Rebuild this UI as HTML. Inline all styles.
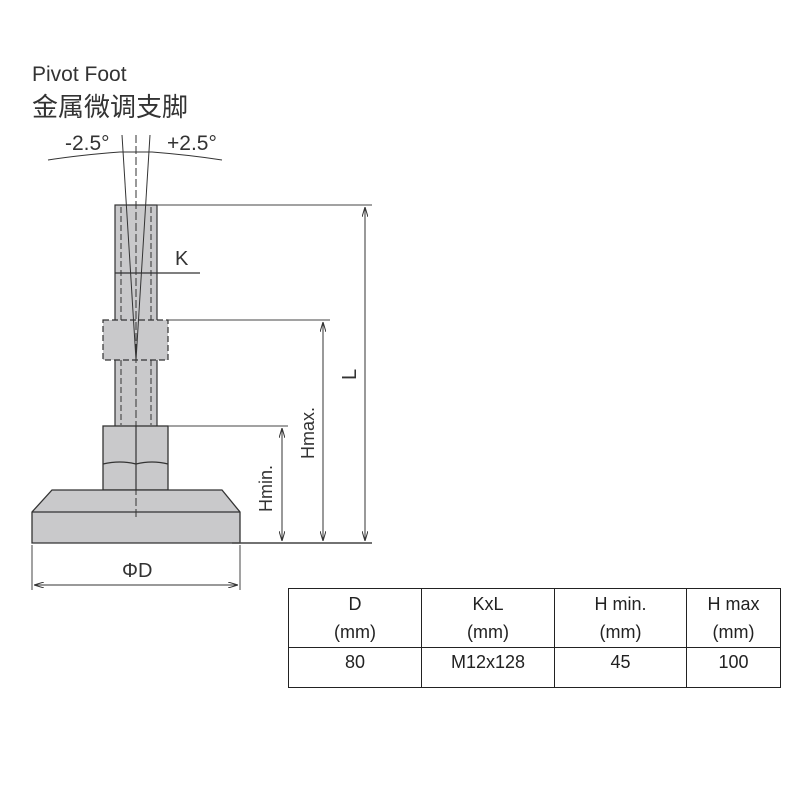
<!DOCTYPE html>
<html><head><meta charset="utf-8"><style>
html,body{margin:0;padding:0;background:#fff;width:800px;height:800px;overflow:hidden}
svg{position:absolute;left:0;top:0}
table{position:absolute;left:288px;top:588px;border-collapse:collapse;font-family:"Liberation Sans","DejaVu Sans",sans-serif;font-size:18px;line-height:28px;color:#222}
td{border:1.5px solid #222;text-align:center;padding:0}
</style></head><body>
<svg width="800" height="800" viewBox="0 0 800 800" font-family="Liberation Sans, sans-serif">
<defs>
<marker id="a" markerWidth="10" markerHeight="6" refX="10" refY="3" orient="auto-start-reverse" markerUnits="userSpaceOnUse"><path d="M0,0 L10,3 L0,6" fill="none" stroke="#333" stroke-width="1"/></marker>
</defs>
<text x="32" y="81" font-size="21" fill="#333">Pivot Foot</text>
<text x="32" y="116" font-size="26" fill="#333" font-family="Liberation Sans, Noto Sans CJK SC, sans-serif">金属微调支脚</text>
<text x="65" y="150" font-size="21" fill="#333">-2.5°</text>
<text x="167" y="150" font-size="21" fill="#333">+2.5°</text>
<path d="M48,160 Q80,155 120,152 L152,152 Q190,155 222,160" fill="none" stroke="#333" stroke-width="1"/>
<rect x="115" y="205" width="42" height="222" fill="#c9c9cb" stroke="#333" stroke-width="1.2"/>
<g stroke="#333" stroke-width="1" stroke-dasharray="6,3" fill="none">
<line x1="121" y1="207" x2="121" y2="425"/><line x1="151" y1="207" x2="151" y2="425"/>
</g>
<rect x="103" y="320" width="65" height="40" fill="#c9c9cb" stroke="#333" stroke-width="1.2" stroke-dasharray="6,3"/>
<rect x="103" y="426" width="65" height="64" fill="#c9c9cb" stroke="#333" stroke-width="1.3"/>
<path d="M103,464 Q120,460 136,464 Q152,460 168,464" fill="none" stroke="#333" stroke-width="1.2"/>
<line x1="136" y1="426" x2="136" y2="490" stroke="#333" stroke-width="1.2"/>
<path d="M52,490 L222,490 L240,512 L240,543 L32,543 L32,512 Z" fill="#c9c9cb" stroke="#333" stroke-width="1.3"/>
<line x1="32" y1="512" x2="240" y2="512" stroke="#333" stroke-width="1.3"/>
<g stroke="#333" stroke-width="1" fill="none">
<line x1="136" y1="135" x2="136" y2="520" stroke-dasharray="8,3"/>
<line x1="122" y1="135" x2="136" y2="360"/><line x1="150" y1="135" x2="136" y2="360"/>
</g>
<line x1="115" y1="273" x2="200" y2="273" stroke="#333" stroke-width="1.2"/>
<text x="175" y="265" font-size="20" fill="#333">K</text>
<g stroke="#444" stroke-width="1">
<line x1="157" y1="205" x2="372" y2="205"/>
<line x1="168" y1="320" x2="330" y2="320"/>
<line x1="168" y1="426" x2="288" y2="426"/>
<line x1="232" y1="543" x2="372" y2="543" stroke-width="1.5"/>
<line x1="32" y1="545" x2="32" y2="590"/><line x1="240" y1="545" x2="240" y2="590"/>
</g>
<g stroke="#333" stroke-width="1" marker-start="url(#a)" marker-end="url(#a)">
<line x1="282" y1="428" x2="282" y2="541"/>
<line x1="323" y1="322" x2="323" y2="541"/>
<line x1="365" y1="207" x2="365" y2="541"/>
<line x1="34" y1="585" x2="238" y2="585"/>
</g>
<text transform="translate(272,512) rotate(-90)" font-size="18" fill="#333">Hmin.</text>
<text transform="translate(314,459) rotate(-90)" font-size="18" fill="#333">Hmax.</text>
<text transform="translate(356,380) rotate(-90)" font-size="20" fill="#333">L</text>
<text x="122" y="577" font-size="20" fill="#333">ΦD</text>
</svg>
<table>
<tr style="height:59px"><td style="width:132px">D<br>(mm)</td><td style="width:132px">KxL<br>(mm)</td><td style="width:131px">H min.<br>(mm)</td><td style="width:93px">H max<br>(mm)</td></tr>
<tr style="height:40px;vertical-align:top"><td>80</td><td>M12x128</td><td>45</td><td>100</td></tr>
</table>
</body></html>
